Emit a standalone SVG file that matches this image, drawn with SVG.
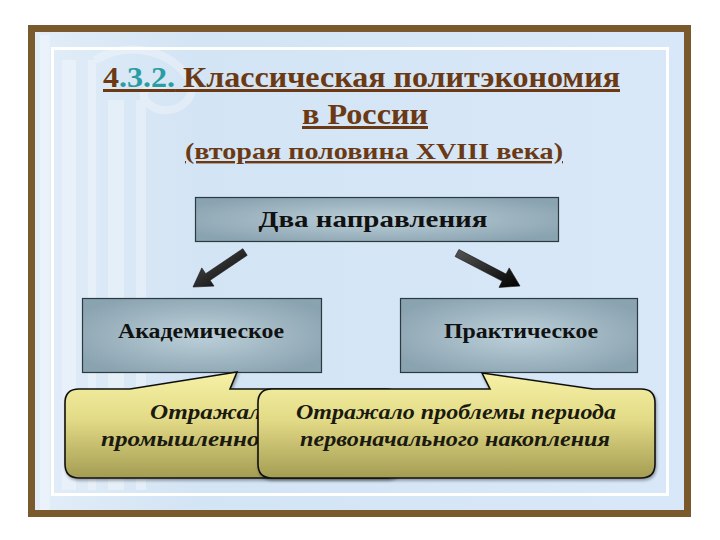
<svg xmlns="http://www.w3.org/2000/svg" width="720" height="540" viewBox="0 0 720 540">
<defs>
<style>
text{font-family:'Liberation Serif','Times New Roman',Tinos,serif;}
.title{font-weight:bold;fill:#6b3a14;text-decoration:underline;}
.teal{fill:#2a9ca4;}
.node-text{font-weight:bold;fill:#111;text-anchor:middle;}
.call-text{font-weight:bold;font-style:italic;fill:#1a1a10;font-size:22px;}
.box{fill:url(#boxGrad);stroke:#2a3a40;stroke-width:1.2;}
.callout{fill:url(#callGrad);stroke:#111;stroke-width:1.6;filter:url(#shadow);}
.arrow{fill:url(#arrGrad);stroke:#111;stroke-width:0.6;}
</style>
<radialGradient id="boxGrad" cx="0.5" cy="0.5" r="0.6">
<stop offset="0" stop-color="#bcd0da"/>
<stop offset="1" stop-color="#8aa3b0"/>
</radialGradient>
<linearGradient id="callGrad" x1="0" y1="0" x2="0" y2="1">
<stop offset="0" stop-color="#f6f1a6"/>
<stop offset="0.45" stop-color="#e2da86"/>
<stop offset="1" stop-color="#a49c52"/>
</linearGradient>
<linearGradient id="arrGrad" x1="0" y1="0" x2="1" y2="1">
<stop offset="0" stop-color="#555"/>
<stop offset="1" stop-color="#000"/>
</linearGradient>
<linearGradient id="bgGrad" x1="0" y1="0" x2="1" y2="0">
<stop offset="0" stop-color="#e2edf8"/>
<stop offset="0.25" stop-color="#d3e4f4"/>
<stop offset="1" stop-color="#d8e8f8"/>
</linearGradient>
<filter id="shadow" x="-5%" y="-10%" width="110%" height="125%">
<feDropShadow dx="1" dy="2" stdDeviation="1.5" flood-color="#000" flood-opacity="0.35"/>
</filter>
</defs>
<rect x="0" y="0" width="720" height="540" fill="#ffffff"/>
<g id="frame">
<rect x="31.5" y="28.5" width="656" height="485" fill="url(#bgGrad)" stroke="#7a5a2c" stroke-width="7"/>
<g opacity="0.3" fill="#ffffff">
<rect x="40" y="35" width="10" height="475"/>
<rect x="62" y="60" width="14" height="430"/>
<rect x="88" y="60" width="8" height="430"/>
<rect x="108" y="100" width="16" height="390"/>
<rect x="136" y="100" width="10" height="390"/>
<path d="M95,60 C130,40 170,50 190,80 C200,100 170,120 150,105 C135,95 150,80 165,90" fill="none" stroke="#ffffff" stroke-width="8"/>
</g>
<rect x="52.5" y="48.5" width="615" height="446" fill="none" stroke="#ffffff" stroke-width="3"/>
</g>
<g id="title">
<text class="title" x="103" y="87" font-size="30" textLength="517" lengthAdjust="spacingAndGlyphs">4<tspan class="teal">.3.2.</tspan> Классическая политэкономия</text>
<text class="title" x="302" y="124" font-size="30" textLength="126" lengthAdjust="spacingAndGlyphs">в России</text>
<text class="title" x="185" y="159" font-size="24" textLength="378" lengthAdjust="spacingAndGlyphs">(вторая половина XVIII века)</text>
</g>
<g id="node-top">
<rect class="box" x="195.5" y="197.5" width="363" height="44"/>
<text class="node-text" x="373" y="227" font-size="24" textLength="229" lengthAdjust="spacingAndGlyphs">Два  направления</text>
</g>
<g id="connectors">
<polygon class="arrow" points="247.2,255.3 210.1,280.3 214.0,286.1 193,287 201.8,267.9 205.7,273.7 242.8,248.7"/>
<polygon class="arrow" points="455.1,256.5 502.2,281.1 499.0,287.4 520,286 509.2,267.9 506.0,274.1 458.9,249.5"/>
</g>
<g id="node-academic">
<rect class="box" x="82.5" y="298.5" width="239" height="74"/>
<text class="node-text" x="201" y="338" font-size="20" textLength="166" lengthAdjust="spacingAndGlyphs">Академическое</text>
</g>
<g id="node-practical">
<rect class="box" x="400.5" y="298.5" width="237" height="74"/>
<text class="node-text" x="521" y="338" font-size="20" textLength="154" lengthAdjust="spacingAndGlyphs">Практическое</text>
</g>
<g id="callout-academic">
<path class="callout" d="M79,389 L130,389 L237,372 L230,389 L386,389 Q400,389 400,403 L400,464 Q400,478 386,478 L79,478 Q65,478 65,464 L65,403 Q65,389 79,389 Z"/>
<text class="call-text" x="150" y="419" textLength="112" lengthAdjust="spacingAndGlyphs">Отражал</text>
<text class="call-text" x="101" y="446" textLength="168" lengthAdjust="spacingAndGlyphs">промышленног</text>
</g>
<g id="callout-practical">
<path class="callout" d="M272,389 L490,389 L482,373 L593,389 L641,389 Q655,389 655,403 L655,464 Q655,478 641,478 L272,478 Q258,478 258,464 L258,403 Q258,389 272,389 Z"/>
<text class="call-text" x="296" y="419" textLength="320" lengthAdjust="spacingAndGlyphs">Отражало проблемы периода</text>
<text class="call-text" x="300" y="446" textLength="310" lengthAdjust="spacingAndGlyphs">первоначального накопления</text>
</g>
</svg>
